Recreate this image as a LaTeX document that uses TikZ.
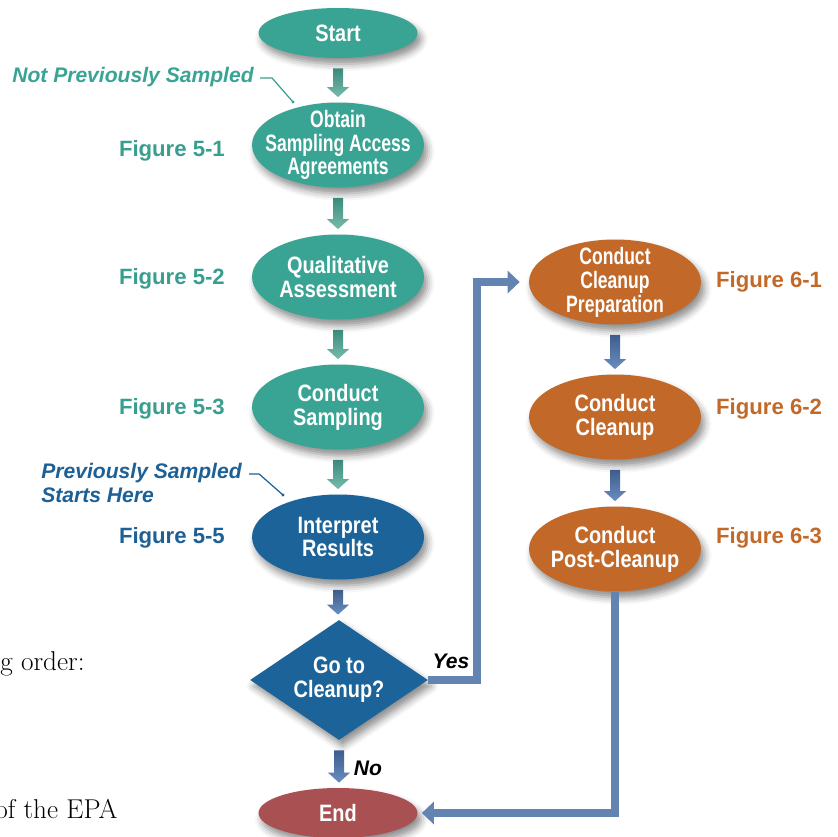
\documentclass[tikz,border=0pt]{standalone}
\usepackage{fontspec}
\newfontfamily\figfont{Liberation Sans}
\newfontfamily\boxfont[FakeStretch=0.84]{Liberation Sans}
\newfontfamily\tightfont[FakeStretch=0.74]{Liberation Sans}
\usepackage{tikz}
\usetikzlibrary{shapes.geometric,arrows.meta,calc,shadows.blur}

\definecolor{tealfill}{HTML}{3AA494}
\definecolor{tealtext}{HTML}{3A9E8E}
\definecolor{bluefill}{HTML}{1B6398}
\definecolor{bluetext}{HTML}{1D6096}
\definecolor{orangefill}{HTML}{C2692A}
\definecolor{redfill}{HTML}{A85052}
\definecolor{linkblue}{HTML}{6383B0}
\definecolor{tealtop}{HTML}{3A8A7C}
\definecolor{tealbot}{HTML}{78BCAB}
\definecolor{bluetop}{HTML}{3D5D8C}
\definecolor{bluebot}{HTML}{6A8EC2}

% shaded block arrow between two nodes
\newcommand\stub[4]{%
  \path[top color=#3,bottom color=#4] let \p1=(#1.south), \p2=(#2.north) in
    (\x1-0.1cm,\y1-0.2cm) -- (\x1+0.1cm,\y1-0.2cm) -- (\x1+0.1cm,\y2+0.3cm)
    -- (\x1+0.22cm,\y2+0.3cm) -- (\x1,\y2+0.1cm) -- (\x1-0.22cm,\y2+0.3cm)
    -- (\x1-0.1cm,\y2+0.3cm) -- cycle;}

\begin{document}
\begin{tikzpicture}[x=0.02cm,y=-0.02cm,
    softshadow/.style={blur shadow={shadow xshift=2pt,shadow yshift=-3.5pt,shadow blur radius=4pt,shadow opacity=45}},
    stepnode/.style={ellipse,fill=#1,text=white,inner sep=-1cm,minimum width=3.44cm,minimum height=1.7cm,
      align=center,font=\boxfont\bfseries\fontsize{13.5}{13.6}\selectfont,softshadow},
    tightnode/.style={stepnode=#1,font=\tightfont\bfseries\fontsize{13.5}{13.6}\selectfont},
    endnode/.style={stepnode=#1,minimum width=3.18cm,minimum height=1.0cm},
    asknode/.style={diamond,fill=#1,text=white,inner sep=-1cm,minimum width=3.56cm,minimum height=2.4cm,
      align=center,font=\boxfont\bfseries\fontsize{13.5}{13.6}\selectfont,softshadow},
    figlabel/.style={font=\figfont\bfseries\fontsize{12.6}{14}\selectfont,text=#1},
    notelabel/.style={font=\figfont\bfseries\itshape\fontsize{12}{13.6}\selectfont,text=#1},
    callout/.style={draw=#1,line width=0.7pt},
    link/.style={draw=linkblue,line width=0.16cm,-{Triangle[width=0.44cm,length=0.24cm]}}]
  \useasboundingbox (0,0) rectangle (838,837);

  % main column
  \node[endnode=tealfill] (start) at (338,33) {Start};
  \node[tightnode=tealfill] (obtain) at (338,145) {Obtain\\Sampling Access\\Agreements};
  \node[stepnode=tealfill] (qual) at (338,277) {Qualitative\\Assessment};
  \node[stepnode=tealfill] (samp) at (338,407) {Conduct\\Sampling};
  \node[stepnode=bluefill] (interp) at (338,537) {Interpret\\Results};
  \node[asknode=bluefill] (go) at (339,680) {Go to\\Cleanup?};
  \node[endnode=redfill] (end) at (338,813) {End};

  % cleanup column
  \node[tightnode=orangefill] (prep) at (615,282) {Conduct\\Cleanup\\Preparation};
  \node[stepnode=orangefill] (clean) at (615,417) {Conduct\\Cleanup};
  \node[stepnode=orangefill] (post) at (615,549) {Conduct\\Post-Cleanup};

  % figure references
  \node[figlabel=tealtext,anchor=east] (f51) at (231,151) {Figure 5-1};
  \node[figlabel=tealtext,anchor=east] (f52) at (231,279) {Figure 5-2};
  \node[figlabel=tealtext,anchor=east] (f53) at (231,409) {Figure 5-3};
  \node[figlabel=bluetext,anchor=east] (f55) at (231,538) {Figure 5-5};
  \node[figlabel=orangefill,anchor=west] (f61) at (710,282) {Figure 6-1};
  \node[figlabel=orangefill,anchor=west] (f62) at (710,409) {Figure 6-2};
  \node[figlabel=orangefill,anchor=west] (f63) at (710,538) {Figure 6-3};

  % entry notes
  \node[notelabel=tealfill,anchor=east,inner sep=0pt] (notprev) at (254,77) {Not Previously Sampled};
  \coordinate (notdot) at (293,102);
  \draw[callout=tealtext] (notprev.east) ++(6,1) -- ++(12,0) -- (notdot);
  \fill[tealtext] (notdot) circle (0.9pt);
  \node[notelabel=bluetext,anchor=west,align=left,inner sep=0pt] (prev) at (41,483) {Previously Sampled\\Starts Here};
  \coordinate (prevdot) at (283,495);
  \draw[callout=bluetext] (prev.north east) ++(7,11) -- ++(10,0) -- (prevdot);
  \fill[bluetext] (prevdot) circle (0.9pt);

  % block arrows
  \stub{start}{obtain}{tealtop}{tealbot}
  \stub{obtain}{qual}{tealtop}{tealbot}
  \stub{qual}{samp}{tealtop}{tealbot}
  \stub{samp}{interp}{tealtop}{tealbot}
  \stub{interp}{go}{bluetop}{bluebot}
  \stub{go}{end}{bluetop}{bluebot}
  \stub{prep}{clean}{bluetop}{bluebot}
  \stub{clean}{post}{bluetop}{bluebot}

  % yes / no branches
  \draw[link,shorten >=0.18cm] (go.east) -- ++(49,0) |- (prep.west);
  \draw[link,shorten >=0.08cm] (post.south) |- (end.east);
  \node[font=\figfont\bfseries\itshape\fontsize{12}{14}\selectfont,anchor=base] (yes) at (451,668) {Yes};
  \node[font=\figfont\bfseries\itshape\fontsize{12}{14}\selectfont,anchor=base] (no) at (368,775) {No};

  % cut-off page text on the left
  \node[anchor=base west,inner sep=0pt,font=\fontsize{15.5}{18}\selectfont] (pg1) at (0,670) {g order:};
  \node[anchor=base west,inner sep=0pt,font=\fontsize{15.5}{18}\selectfont] (pg2) at (-5,818) {of the EPA};
\end{tikzpicture}
\end{document}
